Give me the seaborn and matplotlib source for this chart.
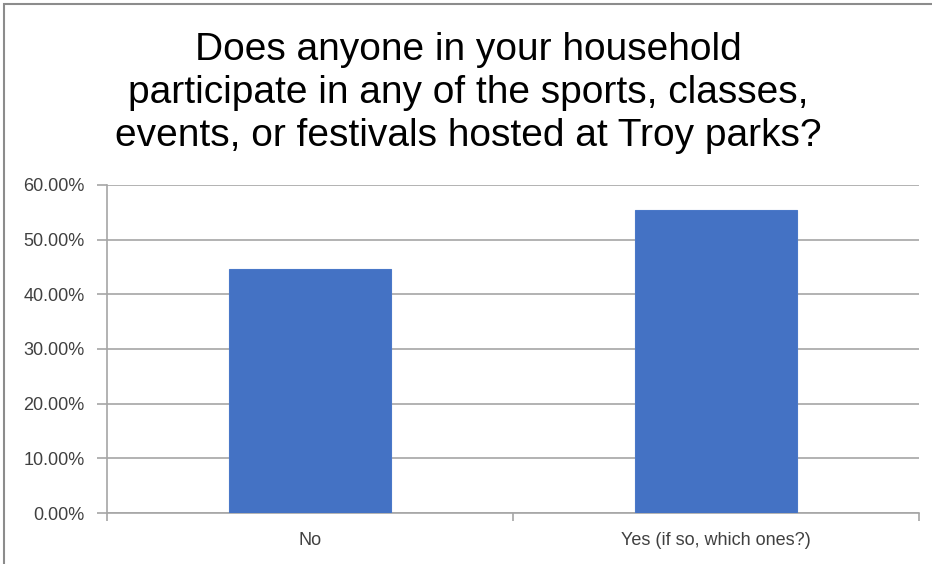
import matplotlib
matplotlib.use("Agg")
import matplotlib.pyplot as plt
import seaborn as sns
import pandas as pd
from matplotlib.patches import Rectangle
from matplotlib.ticker import PercentFormatter

categories = ["No", "Yes (if so, which ones?)"]
values = [0.446, 0.554]
yticks = [0.0, 0.1, 0.2, 0.3, 0.4, 0.5, 0.6]
title = "Does anyone in your household\nparticipate in any of the sports, classes,\nevents, or festivals hosted at Troy parks?"

sns.set_style("white")
plt.rcParams["font.family"] = ["Liberation Sans", "DejaVu Sans"]

df = pd.DataFrame({"cat": categories, "val": values})

fig = plt.figure(figsize=(9.32, 5.64), dpi=100)
ax = fig.add_axes([107/932, 1 - 513/564, (919 - 107)/932, (513 - 185)/564])

sns.barplot(data=df, x="cat", y="val", color="#4472C4", width=0.4, ax=ax,
            saturation=1, edgecolor="#4a78c8", linewidth=0.8, zorder=3)

ax.set_ylim(0, 0.6)
ax.set_xlim(-0.5, 1.5)
ax.set_yticks(yticks)
ax.yaxis.set_major_formatter(PercentFormatter(1.0, decimals=2))
ax.yaxis.grid(True, color="#a6a6a6", linewidth=1.2, zorder=0)
ax.set_axisbelow(True)
ax.set_xlabel("")
ax.set_ylabel("")

for s in ["top", "right"]:
    ax.spines[s].set_visible(False)
for s in ["left", "bottom"]:
    ax.spines[s].set_color("#a6a6a6")
    ax.spines[s].set_linewidth(1.2)

ax.tick_params(axis="y", which="major", length=7, width=1.2, color="#a6a6a6",
               labelsize=13, labelcolor="#404040", pad=9, left=True)
ax.tick_params(axis="x", which="major", length=0, labelsize=13,
               labelcolor="#404040", pad=14)
ax.set_xticks([-0.5, 0.5, 1.5], minor=True)
ax.tick_params(axis="x", which="minor", length=6, width=1.2, color="#a6a6a6", bottom=True)

fig.text(468/932, 1 - 93/564, title, ha="center", va="center", fontsize=28,
         color="#000000", linespacing=1.25)

fig.patches.append(Rectangle((4/932, -0.1), 1.2, 1 - 4/564 + 0.1,
                             transform=fig.transFigure, fill=False,
                             edgecolor="#8c8c8c", linewidth=1.5))

fig.savefig("out.png", dpi=100, facecolor="white")
